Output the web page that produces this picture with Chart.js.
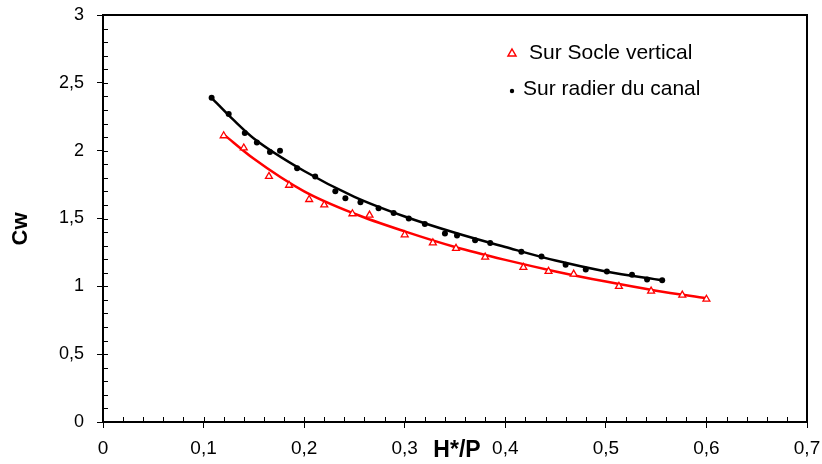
<!DOCTYPE html>
<html>
<head>
<meta charset="utf-8">
<script src="https://cdn.jsdelivr.net/npm/chart.js@4/dist/chart.umd.min.js"></script>
<style>
  html, body { margin: 0; padding: 0; background: #fff; }
  #wrap { width: 822px; height: 464px; }
</style>
</head>
<body>
<div id="wrap"><canvas id="cw"></canvas></div>
<script>
// ---- data ----
const radierX = [0.108, 0.125, 0.141, 0.153, 0.166, 0.176, 0.193, 0.211, 0.231, 0.241, 0.256, 0.274, 0.289, 0.304,
                 0.320, 0.340, 0.352, 0.370, 0.385, 0.416, 0.436, 0.460, 0.480, 0.501, 0.526, 0.541, 0.556];
const radierY = [2.39, 2.27, 2.13, 2.06, 1.99, 2.00, 1.87, 1.81, 1.70, 1.65, 1.62, 1.575, 1.54, 1.50,
                 1.46, 1.39, 1.375, 1.34, 1.32, 1.255, 1.22, 1.16, 1.125, 1.11, 1.085, 1.05, 1.045];

const socleX = [0.120, 0.140, 0.165, 0.185, 0.205, 0.220, 0.248, 0.265, 0.300, 0.328, 0.351, 0.380,
                0.418, 0.443, 0.468, 0.513, 0.545, 0.576, 0.600];
const socleY = [2.11, 2.02, 1.81, 1.745, 1.64, 1.60, 1.535, 1.525, 1.38, 1.32, 1.28, 1.215,
                1.14, 1.11, 1.09, 1.00, 0.965, 0.935, 0.905];

// trend curves
const radierTrendX = [0.108, 0.13, 0.15, 0.2, 0.25, 0.3, 0.35, 0.4, 0.45, 0.5, 0.556];
const radierTrendY = [2.39, 2.225, 2.09, 1.85, 1.66, 1.515, 1.395, 1.29, 1.19, 1.11, 1.045];
const socleTrendX = [0.12, 0.15, 0.2, 0.25, 0.3, 0.35, 0.4, 0.45, 0.5, 0.55, 0.6];
const socleTrendY = [2.12, 1.94, 1.70, 1.535, 1.405, 1.29, 1.195, 1.11, 1.035, 0.968, 0.912];

const xTicks = [0, 0.1, 0.2, 0.3, 0.4, 0.5, 0.6, 0.7];
const yTicks = [0, 0.5, 1, 1.5, 2, 2.5, 3];

const toPts = (xs, ys) => xs.map((x, i) => ({ x: x, y: ys[i] }));
const fmt = v => String(Math.round(v * 10) / 10).replace('.', ',');
const FONT = '"Liberation Sans", Arial, sans-serif';

// frame, inner ticks, legend, axis titles
const decor = {
    id: 'decor',
    afterDraw(chart) {
        const ctx = chart.ctx;
        const a = chart.chartArea;
        const xs = chart.scales.x, ys = chart.scales.y;
        ctx.save();
        ctx.strokeStyle = '#000';
        ctx.lineWidth = 1;
        // ticks pointing into the plot
        ctx.beginPath();
        for (let i = 1; i < 35; i++) {
            const px = Math.round(xs.getPixelForValue(i * 0.02)) + 0.5;
            ctx.moveTo(px, a.bottom);
            ctx.lineTo(px, a.bottom - 5);
        }
        for (let i = 1; i < 30; i++) {
            const py = Math.round(ys.getPixelForValue(i * 0.1)) + 0.5;
            ctx.moveTo(a.left, py);
            ctx.lineTo(a.left + 5, py);
        }
        ctx.stroke();
        // frame
        ctx.lineWidth = 2;
        ctx.strokeRect(a.left, a.top, a.right - a.left, a.bottom - a.top);

        // legend
        ctx.font = '21px ' + FONT;
        ctx.fillStyle = '#000';
        ctx.textBaseline = 'middle';
        ctx.textAlign = 'left';
        ctx.strokeStyle = '#ff0000';
        ctx.lineWidth = 1.5;
        ctx.beginPath();
        ctx.moveTo(512, 49); ctx.lineTo(516, 56); ctx.lineTo(508, 56); ctx.closePath();
        ctx.stroke();
        ctx.fillText('Sur Socle vertical', 529, 53);
        ctx.beginPath();
        ctx.arc(512, 91, 2.2, 0, Math.PI * 2);
        ctx.fill();
        ctx.fillText('Sur radier du canal', 523, 89);

        // x title sits on the tick label row
        ctx.font = 'bold 23px ' + FONT;
        ctx.textAlign = 'center';
        ctx.fillText('H*/P', 457, 451);

        // y title
        ctx.translate(21, 229);
        ctx.rotate(-Math.PI / 2);
        ctx.font = 'bold 22px ' + FONT;
        ctx.fillText('Cw', 0, 0);
        ctx.restore();
    }
};

new Chart(document.getElementById('cw'), {
    type: 'scatter',
    data: {
        datasets: [
            {
                label: 'Sur Socle vertical',
                data: toPts(socleX, socleY),
                pointStyle: 'triangle',
                pointRadius: 4,
                pointBorderWidth: 1.3,
                pointBorderColor: '#ff0000',
                pointBackgroundColor: '#fff',
                showLine: false,
                order: 1
            },
            {
                label: 'Sur radier du canal',
                data: toPts(radierX, radierY),
                pointStyle: 'circle',
                pointRadius: 3,
                pointBorderWidth: 0,
                pointBackgroundColor: '#000',
                pointBorderColor: '#000',
                showLine: false,
                order: 1
            },
            {
                label: 'trend socle',
                data: toPts(socleTrendX, socleTrendY),
                showLine: true,
                borderColor: '#ff0000',
                borderWidth: 2.5,
                pointRadius: 0,
                cubicInterpolationMode: 'monotone',
                order: 2
            },
            {
                label: 'trend radier',
                data: toPts(radierTrendX, radierTrendY),
                showLine: true,
                borderColor: '#000',
                borderWidth: 2.5,
                pointRadius: 0,
                cubicInterpolationMode: 'monotone',
                order: 2
            }
        ]
    },
    options: {
        responsive: true,
        maintainAspectRatio: false,
        animation: false,
        layout: { padding: { top: 15, right: 0, left: 0, bottom: 0 } },
        plugins: {
            legend: { display: false },
            tooltip: { enabled: false }
        },
        scales: {
            x: {
                type: 'linear',
                min: 0, max: 0.7,
                afterBuildTicks: s => { s.ticks = xTicks.map(v => ({ value: v })); },
                afterFit: s => { s.height = 42; s.paddingLeft = 0; s.paddingRight = 15; },
                ticks: {
                    callback: v => fmt(v),
                    color: '#000',
                    font: { family: FONT, size: 19 },
                    padding: 9,
                    maxRotation: 0
                },
                grid: { drawOnChartArea: false, tickLength: 6, color: '#000', tickWidth: 1 },
                border: { display: false }
            },
            y: {
                type: 'linear',
                min: 0, max: 3,
                afterBuildTicks: s => { s.ticks = yTicks.map(v => ({ value: v })); },
                afterFit: s => { s.width = 103; s.paddingTop = 0; s.paddingBottom = 0; },
                ticks: {
                    callback: v => fmt(v),
                    color: '#000',
                    font: { family: FONT, size: 18 },
                    padding: 13
                },
                grid: { drawOnChartArea: false, tickLength: 6, color: '#000', tickWidth: 1 },
                border: { display: false }
            }
        }
    },
    plugins: [decor]
});
</script>
</body>
</html>
